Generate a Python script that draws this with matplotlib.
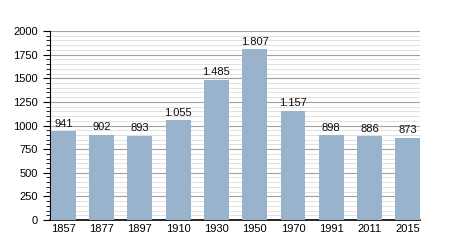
import matplotlib.pyplot as plt
from matplotlib.ticker import MultipleLocator

plt.rcParams['font.family'] = ['Liberation Sans', 'DejaVu Sans']

years = ['1857', '1877', '1897', '1910', '1930', '1950', '1970', '1991', '2011', '2015']
population = [941, 902, 893, 1055, 1485, 1807, 1157, 898, 886, 873]

fig = plt.figure(figsize=(4.5, 2.5), dpi=100)
ax = fig.add_axes([50/450, 30/250, 370/450, 189/250])

x = range(len(years))
ax.bar(x, population, width=0.65, color='#9ab3cd', zorder=3)
for xi, v in zip(x, population):
    ax.text(xi, v + 25, f'{v:,}'.replace(',', '.'), ha='center', va='bottom', fontsize=8, color='#111111')

ax.set_xlim(-0.35, 9.32)
ax.set_ylim(0, 2000)
ax.set_xticks(list(x))
ax.set_xticklabels(years, fontsize=8)
ax.tick_params(axis='x', length=0, pad=3)
ax.yaxis.set_major_locator(MultipleLocator(250))
ax.yaxis.set_minor_locator(MultipleLocator(50))
ax.tick_params(axis='y', which='major', labelsize=8, length=5, width=0.8)
ax.tick_params(axis='y', which='minor', length=3, width=0.6)
ax.grid(axis='y', which='major', color='#a0a0a0', linewidth=0.8, zorder=0)
ax.grid(axis='y', which='minor', color='#dcdcdc', linewidth=0.6, zorder=0)
for s in ['top', 'right']:
    ax.spines[s].set_visible(False)
ax.spines['left'].set_linewidth(0.8)
ax.spines['bottom'].set_linewidth(1.2)

fig.savefig('out.png', dpi=100)
